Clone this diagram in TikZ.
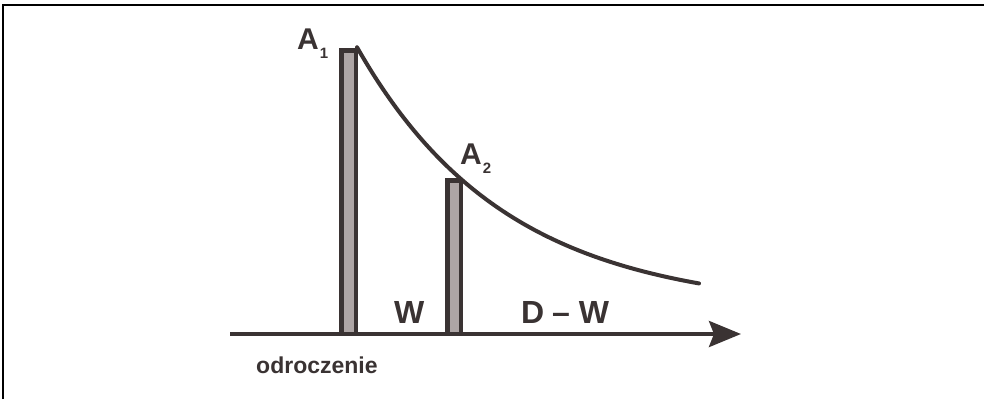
\documentclass[tikz,border=0pt]{standalone}
\usepackage{fontspec}
\setmainfont{Liberation Sans}
\usetikzlibrary{arrows.meta,positioning}
\definecolor{cA}{HTML}{3A3333}
\definecolor{cB}{HTML}{ADA5A5}
\tikzset{
  bar/.style={draw=cA,fill=cB,line width=4.5pt},
  axisarrow/.style={-{Stealth[length=32pt,width=26pt,inset=5pt]},line width=4pt,cA},
  decay/.style={line width=4pt,cA,line cap=round},
  lbl/.style={inner sep=0pt,anchor=base west,text=cA,font=\bfseries\fontsize{30}{30}\selectfont},
  txt/.style={inner sep=0pt,anchor=base west,text=cA,font=\bfseries\fontsize{32}{32}\selectfont},
  frameline/.style={line width=2pt,black},
}
\newcommand{\subidx}[1]{\kern1pt\raisebox{-9pt}{\fontsize{15}{15}\selectfont #1}}

\begin{document}
\begin{tikzpicture}[x=1pt,y=-1pt]
  \useasboundingbox (0,0) rectangle (984,399);
  \draw[frameline] (3,399) -- (3,5) -- (984,5);
  % time axis with the two payments
  \coordinate (o) at (230,334);
  \coordinate (e) at (741,334);
  \draw[bar] (341.25,334) rectangle (355.75,50.25);
  \draw[bar] (447.25,334) rectangle (460.75,180.25);
  \draw[axisarrow] (o) -- (e);
  \draw[decay] plot[domain=357:699,samples=80] (\x,{310-261*exp(-0.0067*(\x-358))});
  % labels
  \node[lbl] (a1) at (297,49) {A\subidx{1}};
  \node[lbl] (a2) at (460,164) {A\subidx{2}};
  \node[txt] (w) at (394,323) {W};
  \node[txt] (dw) at (521,323) {D\kern-1pt{} – W};
  \node[inner sep=0pt,anchor=base west,text=cA,font=\bfseries\fontsize{23}{23}\selectfont] (od) at (256,373) {odroczenie};
\end{tikzpicture}
\end{document}
